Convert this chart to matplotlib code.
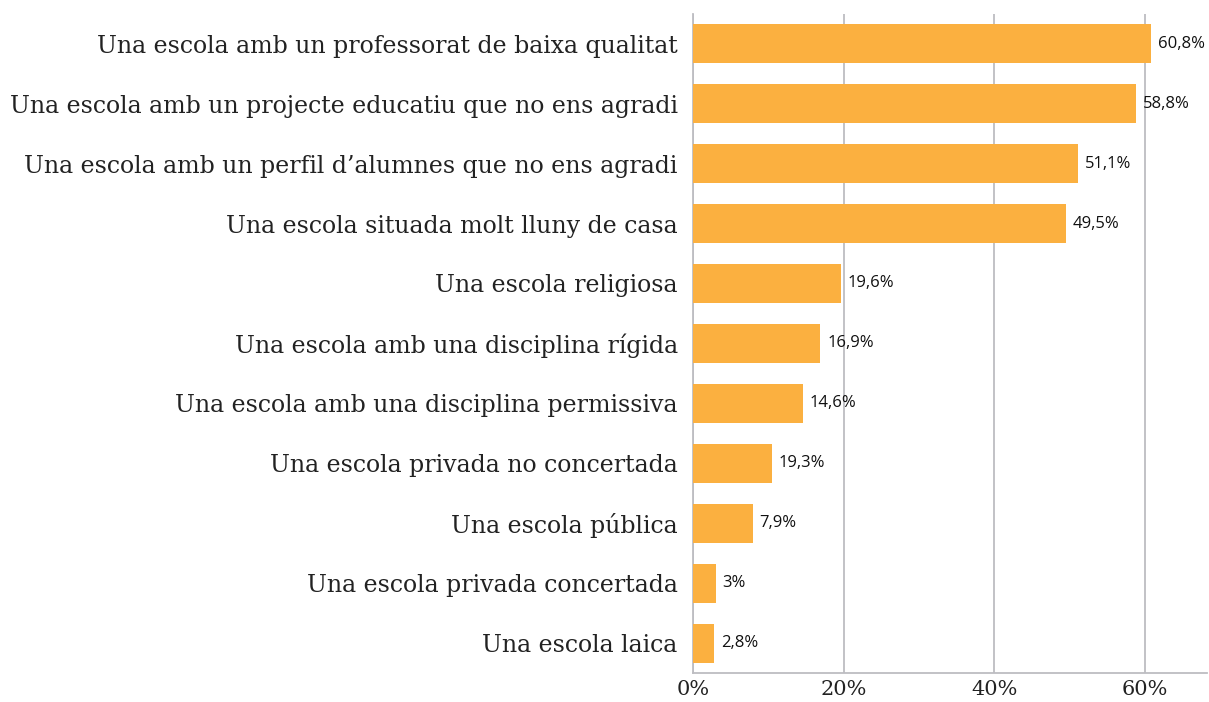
import matplotlib.pyplot as plt

categories = [
    "Una escola amb un professorat de baixa qualitat",
    "Una escola amb un projecte educatiu que no ens agradi",
    "Una escola amb un perfil d\u2019alumnes que no ens agradi",
    "Una escola situada molt lluny de casa",
    "Una escola religiosa",
    "Una escola amb una disciplina rígida",
    "Una escola amb una disciplina permissiva",
    "Una escola privada no concertada",
    "Una escola pública",
    "Una escola privada concertada",
    "Una escola laica",
]
# bar lengths as drawn (%)
values = [60.8, 58.8, 51.1, 49.5, 19.6, 16.9, 14.6, 10.5, 7.9, 3.0, 2.8]
# labels printed next to the bars
value_labels = ["60,8%", "58,8%", "51,1%", "49,5%", "19,6%", "16,9%",
                "14,6%", "19,3%", "7,9%", "3%", "2,8%"]
ticks = [0, 20, 40, 60]
tick_labels = ["0%", "20%", "40%", "60%"]

bar_color = "#FBB040"
grid_color = "#BDBDC2"

fig = plt.figure(figsize=(12.09, 7.02), dpi=100)
ax = fig.add_axes([0.5732, 0.0413, 0.4255, 0.939])

y = list(range(len(categories)))
ax.barh(y, values, height=0.65, color=bar_color, zorder=3)
ax.set_ylim(len(categories) - 0.5, -0.5)
ax.set_xlim(0, 68.3)

ax.set_yticks(y)
ax.set_yticklabels(categories, family="DejaVu Serif", fontsize=17, color="#222222")
ax.set_xticks(ticks)
ax.set_xticklabels(tick_labels, family="DejaVu Serif", fontsize=15, color="#222222")
ax.tick_params(axis="both", length=0)
ax.tick_params(axis="y", pad=11)
ax.tick_params(axis="x", pad=5)

ax.grid(axis="x", color=grid_color, linewidth=1.3, zorder=0)
for s in ["top", "right"]:
    ax.spines[s].set_visible(False)
for s in ["left", "bottom"]:
    ax.spines[s].set_color(grid_color)
    ax.spines[s].set_linewidth(1.3)

for yi, v, lab in zip(y, values, value_labels):
    ax.text(v + 0.9, yi, lab, va="center", ha="left", fontsize=12,
            family="Open Sans", color="#111111", zorder=4)

fig.savefig("out.png", dpi=100)
